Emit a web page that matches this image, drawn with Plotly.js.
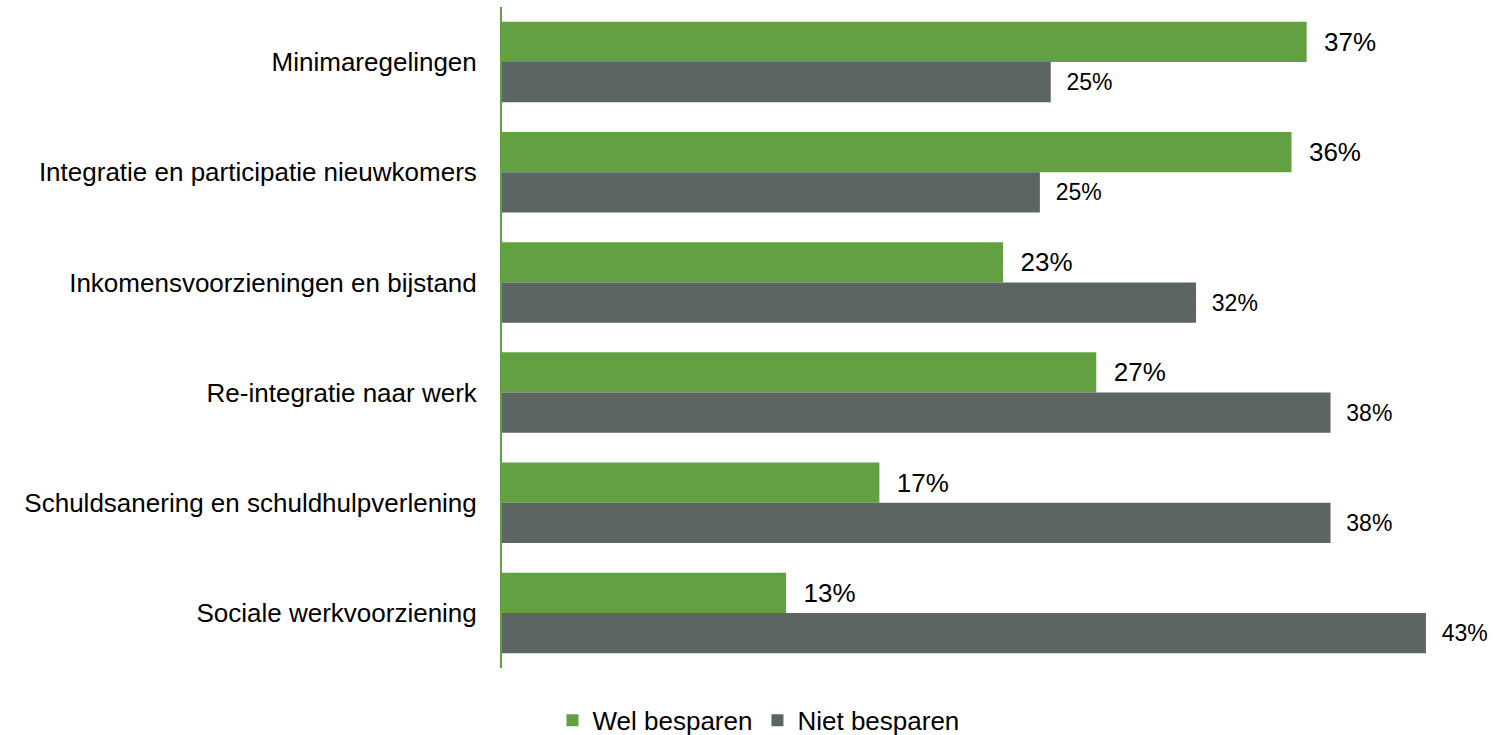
<!DOCTYPE html>
<html>
<head>
<meta charset="utf-8">
<script src="https://cdn.plot.ly/plotly-3.0.1.min.js"></script>
<style>html,body{margin:0;padding:0;background:#fff;}#chart{width:1499px;height:735px;}</style>
</head>
<body>
<div id="chart"></div>
<script>
const categories = [
  "Minimaregelingen",
  "Integratie en participatie nieuwkomers",
  "Inkomensvoorzieningen en bijstand",
  "Re-integratie naar werk",
  "Schuldsanering en schuldhulpverlening",
  "Sociale werkvoorziening"
];
const welBesparen = [37.1, 36.4, 23.1, 27.4, 17.4, 13.1];
const nietBesparen = [25.3, 24.8, 32.0, 38.2, 38.2, 42.6];
const seriesNames = ["Wel besparen", "Niet besparen"];

const NB = "\u00a0\u00a0";
const FONT = "Liberation Sans, Arial, sans-serif";
const traces = [
  {
    type: "bar", orientation: "h", name: seriesNames[0],
    y: categories, x: welBesparen,
    marker: {color: "#63a042"},
    texttemplate: NB + "%{x:.0f}%", textposition: "outside",
    textfont: {family: FONT, size: 26, color: "#000"},
    cliponaxis: false, hoverinfo: "skip"
  },
  {
    type: "bar", orientation: "h", name: seriesNames[1],
    y: categories, x: nietBesparen,
    marker: {color: "#5d6563"},
    texttemplate: NB + "%{x:.0f}%", textposition: "outside",
    textfont: {family: FONT, size: 23, color: "#000"},
    cliponaxis: false, hoverinfo: "skip"
  }
];

const layout = {
  width: 1499, height: 735,
  margin: {l: 502, r: 21, t: 7, b: 67},
  paper_bgcolor: "#fff", plot_bgcolor: "#fff",
  font: {family: FONT, color: "#000"},
  barmode: "group", bargap: 0.27, bargroupgap: 0,
  xaxis: {range: [0, 45], visible: false, showgrid: false, zeroline: false, fixedrange: true},
  yaxis: {
    autorange: "reversed", showgrid: false, zeroline: false,
    showline: true, linecolor: "#63a042", linewidth: 2,
    ticks: "", ticklabelstandoff: 18,
    tickfont: {size: 26, color: "#000"}
  },
  showlegend: true,
  legend: {
    orientation: "h", xref: "container", yref: "container",
    x: 0.506, xanchor: "center", y: 0.02, yanchor: "middle",
    font: {size: 26, color: "#000"}, traceorder: "normal",
    itemwidth: 30
  }
};

Plotly.newPlot("chart", traces, layout, {displayModeBar: false, staticPlot: true});
</script>
</body>
</html>
